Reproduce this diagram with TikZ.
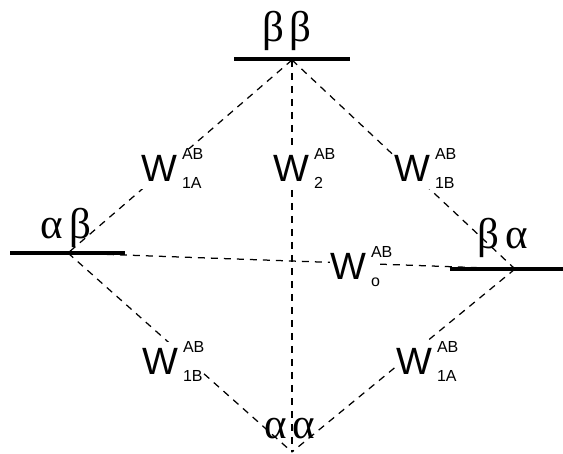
\documentclass[tikz,border=0pt]{standalone}
\usepackage{fontspec}
\setmainfont{Liberation Sans}
\newfontfamily\grk{Liberation Serif}
\newcommand{\Wlab}[2]{\fontsize{38}{38}\selectfont W\kern5pt\rlap{\raisebox{22pt}{\fontsize{16}{16}\selectfont AB}}\raisebox{-7pt}{\fontsize{16}{16}\selectfont #2}}
\begin{document}
\begin{tikzpicture}[x=1pt,y=-1pt,
  level/.style={line width=3.4pt},
  trans/.style={dash pattern=on 7pt off 6pt,line width=1.25pt},
  wlab/.style={anchor=base west,inner sep=0pt,fill=white},
  glab/.style={anchor=base,inner sep=0pt,font=\grk\fontsize{43}{43}\selectfont}]
\useasboundingbox[fill=white] (0,0) rectangle (563,454);
% convergence points
\coordinate (T) at (292,60);
\coordinate (L) at (68,253);
\coordinate (R) at (515,269);
\coordinate (B) at (292,452);
% level ends
\coordinate (T1) at (234,59); \coordinate (T2) at (350,59);
\coordinate (L1) at (10,253); \coordinate (L2) at (125,253);
\coordinate (R1) at (450,269); \coordinate (R2) at (563,269);
% dashed transitions
\draw[trans] (T) -- (L);
\draw[trans] (T) -- (R);
\draw[trans] (T) -- (B);
\draw[trans] (L) -- (R);
\draw[trans] (L) -- (B);
\draw[trans] (R) -- (B);
% levels
\draw[level] (T1) -- (T2);
\draw[level] (L1) -- (L2);
\draw[level] (R1) -- (R2);
% level labels
\node[glab] (tb) at (287,42) {β\kern6ptβ};
\node[glab] (lb) at (66,239) {α\kern6ptβ};
\node[glab] (rb) at (503,249) {β\kern6ptα};
\node[glab] (bb) at (290,439) {α\kern6ptα};
% W labels
\node[wlab] (w1) at (141,182) {\Wlab{AB}{1A}};
\node[wlab] (w2) at (273,182) {\Wlab{AB}{2}};
\node[wlab] (w3) at (394,182) {\Wlab{AB}{1B}};
\node[wlab] (w4) at (330,280) {\Wlab{AB}{o}};
\node[wlab] (w5) at (142,375) {\Wlab{AB}{1B}};
\node[wlab] (w6) at (396,375) {\Wlab{AB}{1A}};
\end{tikzpicture}
\end{document}
